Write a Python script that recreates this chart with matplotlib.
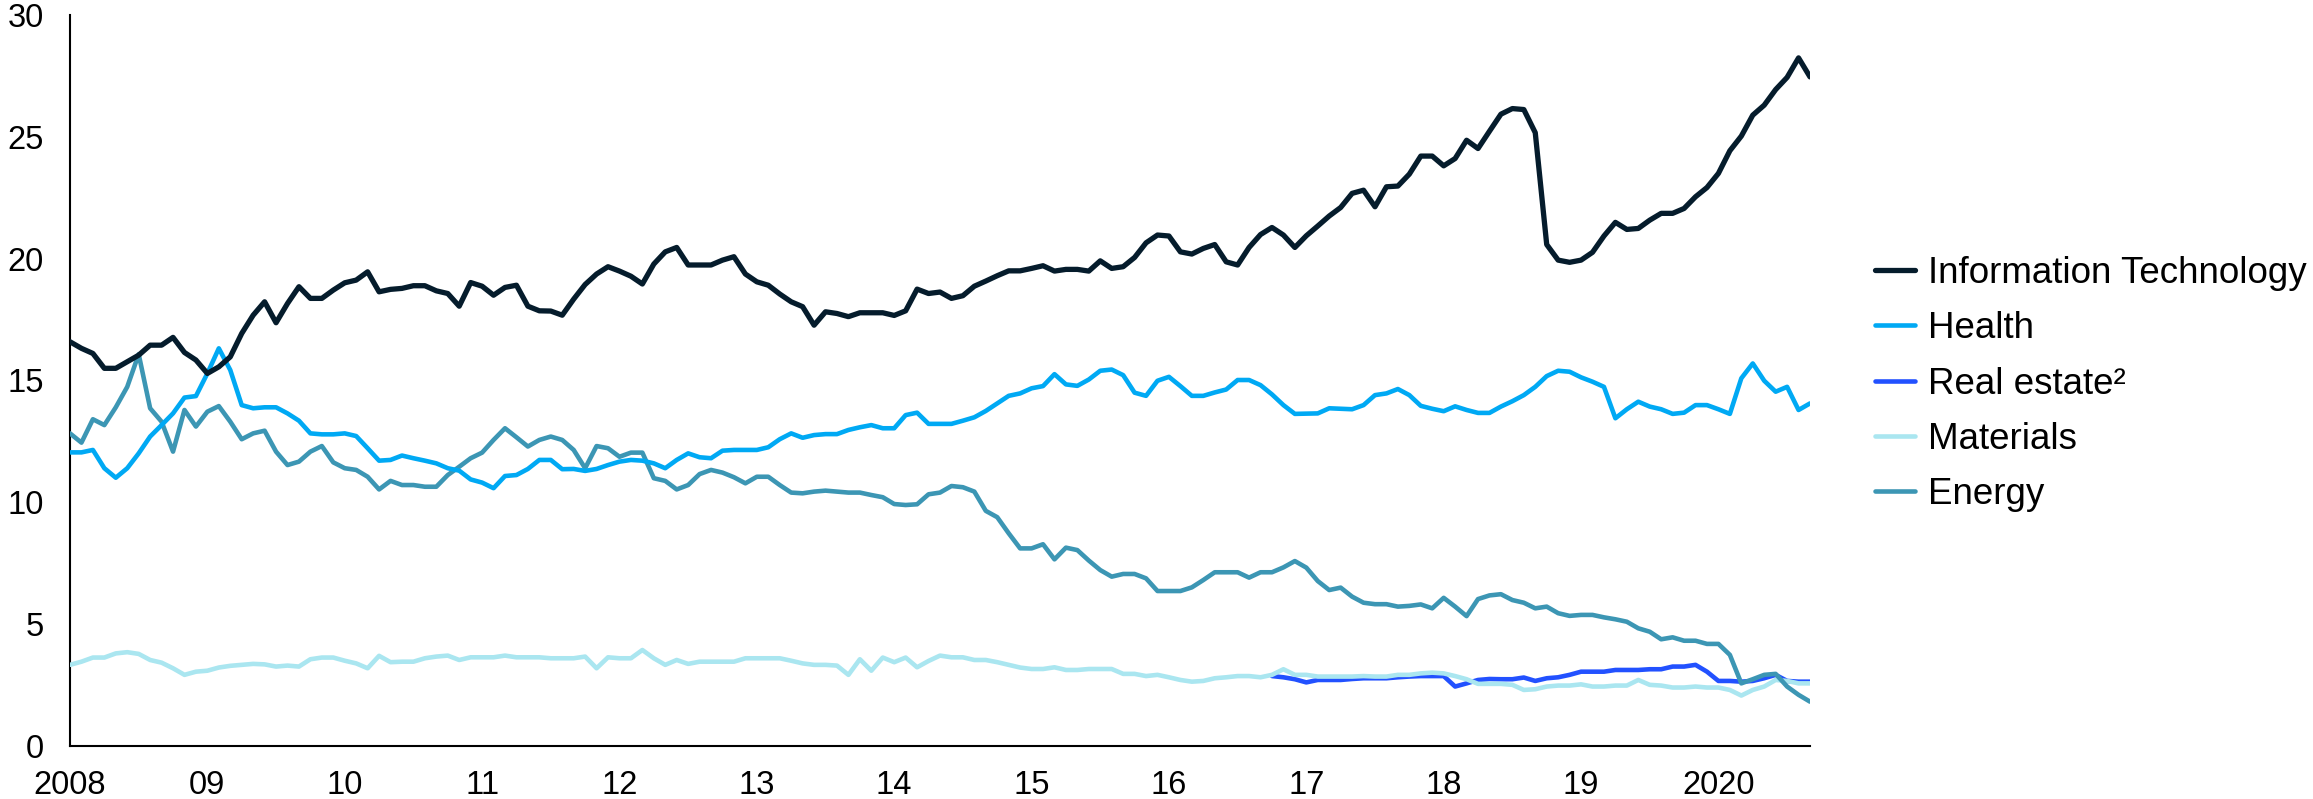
import numpy as np
import matplotlib
matplotlib.use("Agg")
import matplotlib.pyplot as plt

plt.rcParams['font.family'] = ['Liberation Sans', 'DejaVu Sans']

# monthly shares, Jan 2008 - Sep 2020, %
info_tech = [16.59, 16.32, 16.11, 15.50, 15.50, 15.77, 16.04, 16.45, 16.45, 16.77,
             16.15, 15.84, 15.29, 15.56, 15.97, 16.93, 17.68, 18.23, 17.37, 18.16,
             18.85, 18.37, 18.37, 18.71, 19.01, 19.12, 19.46, 18.64, 18.74, 18.78,
             18.89, 18.89, 18.68, 18.57, 18.05, 19.02, 18.87, 18.50, 18.82, 18.91,
             18.05, 17.86, 17.85, 17.68, 18.34, 18.94, 19.37, 19.67, 19.49, 19.28,
             18.96, 19.78, 20.28, 20.46, 19.74, 19.74, 19.74, 19.94, 20.08, 19.37,
             19.05, 18.91, 18.55, 18.23, 18.03, 17.27, 17.82, 17.75, 17.62, 17.78,
             17.78, 17.78, 17.67, 17.86, 18.75, 18.57, 18.63, 18.37, 18.48, 18.87,
             19.08, 19.30, 19.50, 19.50, 19.60, 19.71, 19.49, 19.56, 19.56, 19.49,
             19.91, 19.60, 19.67, 20.05, 20.65, 20.97, 20.93, 20.28, 20.19, 20.42,
             20.58, 19.87, 19.74, 20.46, 20.99, 21.28, 20.97, 20.46, 20.94, 21.34,
             21.75, 22.10, 22.68, 22.81, 22.13, 22.95, 22.98, 23.47, 24.21, 24.21,
             23.81, 24.11, 24.86, 24.52, 25.23, 25.93, 26.16, 26.12, 25.17, 20.58,
             19.94, 19.85, 19.94, 20.26, 20.93, 21.49, 21.20, 21.24, 21.58, 21.86,
             21.86, 22.06, 22.54, 22.92, 23.50, 24.43, 25.03, 25.89, 26.30, 26.94,
             27.44, 28.24, 27.46]

health = [12.05, 12.05, 12.15, 11.40, 11.01, 11.40, 12.01, 12.70, 13.17, 13.65,
          14.30, 14.36, 15.29, 16.32, 15.43, 13.99, 13.86, 13.90, 13.90, 13.65,
          13.35, 12.83, 12.79, 12.79, 12.83, 12.72, 12.22, 11.71, 11.74, 11.92,
          11.81, 11.71, 11.60, 11.40, 11.30, 10.94, 10.81, 10.58, 11.08, 11.12,
          11.37, 11.74, 11.74, 11.36, 11.37, 11.29, 11.37, 11.53, 11.67, 11.74,
          11.71, 11.60, 11.40, 11.74, 12.01, 11.85, 11.81, 12.12, 12.15, 12.15,
          12.15, 12.26, 12.59, 12.83, 12.65, 12.76, 12.80, 12.80, 12.97, 13.08,
          13.17, 13.04, 13.04, 13.58, 13.68, 13.22, 13.22, 13.22, 13.35, 13.49,
          13.75, 14.06, 14.37, 14.47, 14.68, 14.77, 15.26, 14.84, 14.78, 15.04,
          15.40, 15.45, 15.22, 14.50, 14.37, 14.99, 15.15, 14.77, 14.37, 14.37,
          14.51, 14.63, 15.02, 15.02, 14.81, 14.43, 13.99, 13.63, 13.64, 13.65,
          13.86, 13.84, 13.82, 13.99, 14.40, 14.47, 14.65, 14.40, 13.96, 13.84,
          13.74, 13.94, 13.79, 13.67, 13.67, 13.93, 14.15, 14.40, 14.74, 15.18,
          15.40, 15.36, 15.13, 14.95, 14.74, 13.45, 13.82, 14.13, 13.93, 13.82,
          13.63, 13.68, 13.99, 13.99, 13.82, 13.63, 15.09, 15.70, 14.99, 14.54,
          14.74, 13.79, 14.06]

energy = [12.83, 12.45, 13.41, 13.17, 13.90, 14.74, 16.08, 13.86, 13.31, 12.08,
          13.79, 13.11, 13.72, 13.95, 13.31, 12.59, 12.83, 12.94, 12.08, 11.53,
          11.67, 12.08, 12.31, 11.64, 11.40, 11.33, 11.05, 10.53, 10.88, 10.71,
          10.71, 10.64, 10.64, 11.12, 11.46, 11.81, 12.04, 12.56, 13.04, 12.67,
          12.29, 12.56, 12.70, 12.56, 12.15, 11.40, 12.31, 12.22, 11.87, 12.04,
          12.04, 10.99, 10.88, 10.53, 10.71, 11.16, 11.33, 11.22, 11.03, 10.78,
          11.05, 11.05, 10.71, 10.40, 10.37, 10.44, 10.48, 10.44, 10.40, 10.40,
          10.30, 10.21, 9.93, 9.89, 9.92, 10.33, 10.40, 10.67, 10.62, 10.44,
          9.65, 9.39, 8.73, 8.11, 8.11, 8.28, 7.66, 8.14, 8.04, 7.61,
          7.22, 6.95, 7.06, 7.06, 6.88, 6.36, 6.36, 6.36, 6.51, 6.81,
          7.13, 7.13, 7.13, 6.91, 7.13, 7.13, 7.33, 7.59, 7.32, 6.77,
          6.40, 6.50, 6.13, 5.88, 5.82, 5.82, 5.72, 5.75, 5.81, 5.65,
          6.08, 5.72, 5.33, 6.03, 6.18, 6.23, 5.99, 5.88, 5.65, 5.72,
          5.45, 5.34, 5.38, 5.38, 5.28, 5.20, 5.10, 4.83, 4.69, 4.38,
          4.46, 4.32, 4.32, 4.19, 4.19, 3.74, 2.57, 2.74, 2.92, 2.96,
          2.44, 2.10, 1.82]

materials = [3.33, 3.46, 3.63, 3.63, 3.80, 3.85, 3.78, 3.53, 3.42, 3.19,
             2.92, 3.05, 3.09, 3.22, 3.29, 3.33, 3.37, 3.35, 3.26, 3.30,
             3.26, 3.56, 3.63, 3.63, 3.50, 3.39, 3.19, 3.70, 3.44, 3.46,
             3.46, 3.60, 3.67, 3.71, 3.53, 3.64, 3.64, 3.64, 3.71, 3.64,
             3.64, 3.64, 3.60, 3.60, 3.60, 3.67, 3.19, 3.64, 3.60, 3.60,
             3.94, 3.60, 3.33, 3.53, 3.37, 3.46, 3.46, 3.46, 3.46, 3.60,
             3.60, 3.60, 3.60, 3.50, 3.39, 3.33, 3.33, 3.30, 2.92, 3.56,
             3.09, 3.63, 3.44, 3.63, 3.23, 3.49, 3.71, 3.64, 3.64, 3.53,
             3.53, 3.44, 3.33, 3.22, 3.16, 3.16, 3.23, 3.12, 3.12, 3.16,
             3.16, 3.16, 2.96, 2.96, 2.87, 2.92, 2.82, 2.71, 2.64, 2.67,
             2.78, 2.82, 2.87, 2.87, 2.82, 2.92, 3.15, 2.92, 2.92, 2.85,
             2.85, 2.85, 2.85, 2.87, 2.85, 2.85, 2.92, 2.92, 2.98, 3.01,
             2.98, 2.87, 2.74, 2.55, 2.55, 2.55, 2.51, 2.30, 2.33, 2.44,
             2.48, 2.48, 2.53, 2.44, 2.44, 2.48, 2.48, 2.71, 2.51, 2.48,
             2.40, 2.40, 2.44, 2.40, 2.40, 2.30, 2.07, 2.30, 2.44, 2.71,
             2.67, 2.57, 2.57]

# real estate only exists as a sector from Sep 2016
real_estate_start = 105
real_estate = [2.87, 2.82, 2.74, 2.61, 2.71, 2.71, 2.71, 2.75, 2.78, 2.78,
               2.78, 2.82, 2.85, 2.87, 2.87, 2.87, 2.44, 2.57, 2.71, 2.75,
               2.74, 2.74, 2.81, 2.67, 2.78, 2.82, 2.92, 3.05, 3.05, 3.05,
               3.12, 3.12, 3.12, 3.15, 3.15, 3.26, 3.26, 3.33, 3.05, 2.67,
               2.67, 2.64, 2.67, 2.78, 2.92, 2.67, 2.64, 2.64]

years = list(range(2008, 2021))
year_labels = ["2008", "09", "10", "11", "12", "13", "14", "15", "16", "17", "18", "19", "2020"]

n = len(info_tech)
t = 2008 + np.arange(n) / 12
t_re = t[real_estate_start:]

fig = plt.figure(figsize=(23.13, 7.99), dpi=100)
ax = fig.add_axes([70 / 2313, 53 / 799, 1740 / 2313, 731 / 799])

# draw order: thin/light lines underneath, IT on top
l_re, = ax.plot(t_re, real_estate, color="#2251ff", lw=3.3, zorder=2, solid_capstyle="round")
l_mat, = ax.plot(t, materials, color="#aae6f0", lw=3.3, zorder=3, solid_capstyle="round")
l_en, = ax.plot(t, energy, color="#3c96b4", lw=3.3, zorder=4, solid_capstyle="round")
l_he, = ax.plot(t, health, color="#00a9f4", lw=3.3, zorder=5, solid_capstyle="round")
l_it, = ax.plot(t, info_tech, color="#051c2c", lw=3.8, zorder=6, solid_capstyle="round")

ax.set_xlim(t[0], t[-1])
ax.set_ylim(0, 30)
ax.set_yticks(range(0, 31, 5))
ax.set_xticks(years)
ax.set_xticklabels(year_labels)
ax.tick_params(axis="both", length=0, labelsize=23.5, colors="black")
ax.tick_params(axis="x", pad=17)
ax.tick_params(axis="y", pad=19)
for side in ["top", "right"]:
    ax.spines[side].set_visible(False)
for side in ["left", "bottom"]:
    ax.spines[side].set_linewidth(1.5)
    ax.spines[side].set_color("black")

fig.legend([l_it, l_he, l_re, l_mat, l_en],
           ["Information Technology", "Health", "Real estate²", "Materials", "Energy"],
           loc="center left", bbox_to_anchor=(1875 / 2313, 1 - 384 / 799),
           frameon=False, fontsize=26.5, handlelength=1.1, handletextpad=0.35,
           labelspacing=0.55, borderpad=0, borderaxespad=0)

fig.savefig("out.png", dpi=100)
